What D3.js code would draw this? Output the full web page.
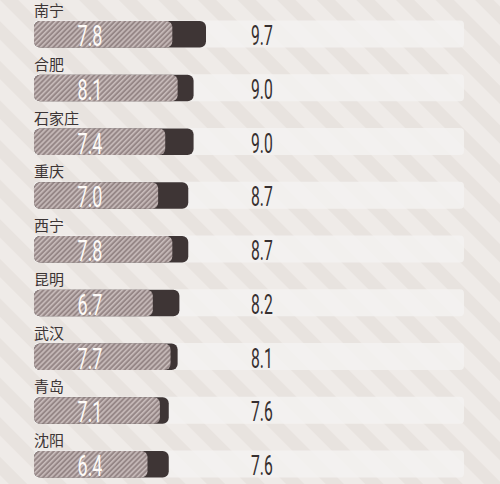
<!DOCTYPE html>
<html>
<head>
<meta charset="utf-8">
<script src="https://cdn.jsdelivr.net/npm/d3@7"></script>
<style>
  html, body { margin: 0; padding: 0; background: #ece8e4; }
  svg { display: block; }
</style>
</head>
<body>
<svg width="500" height="484"></svg>
<script>
// city rows, top to bottom
var cities = ["南宁", "合肥", "石家庄", "重庆", "西宁", "昆明", "武汉", "青岛", "沈阳"];
// value shown inside the hatched bar
var innerValues = [7.8, 8.1, 7.4, 7.0, 7.8, 6.7, 7.7, 7.1, 6.4];
// value shown to the right (length of the dark bar)
var outerValues = [9.7, 9.0, 9.0, 8.7, 8.7, 8.2, 8.1, 7.6, 7.6];

var svg = d3.select("svg"),
    width = +svg.attr("width"),
    height = +svg.attr("height");

var defs = svg.append("defs");

// background diagonal bands
var bg = defs.append("pattern")
    .attr("id", "bgStripes")
    .attr("patternUnits", "userSpaceOnUse")
    .attr("width", 28)
    .attr("height", 28)
    .attr("patternTransform", "rotate(-45)");
bg.append("rect").attr("width", 28).attr("height", 28).attr("fill", "#efebe8");
bg.append("rect").attr("width", 13).attr("height", 28).attr("fill", "#e8e3df");

// fine hatching inside the bar
var hatch = defs.append("pattern")
    .attr("id", "hatch")
    .attr("patternUnits", "userSpaceOnUse")
    .attr("width", 3.6)
    .attr("height", 3.6)
    .attr("patternTransform", "rotate(45)");
hatch.append("rect").attr("width", 3.6).attr("height", 3.6).attr("fill", "#968787");
hatch.append("rect").attr("width", 1.6).attr("height", 3.6).attr("fill", "#c8bcbb");

svg.append("rect")
    .attr("width", width)
    .attr("height", height)
    .attr("fill", "url(#bgStripes)");

var x = d3.scaleLinear().domain([0, 24.25]).range([34, 464]);
var y = d3.scaleBand().domain(cities).range([0, 483.75]);

var rows = svg.selectAll("g.row")
    .data(cities)
    .enter().append("g")
    .attr("class", "row")
    .attr("transform", function (d) { return "translate(0," + y(d) + ")"; });

// light track
rows.append("rect")
    .attr("x", x(0))
    .attr("y", 20.5)
    .attr("width", x.range()[1] - x(0))
    .attr("height", 27)
    .attr("rx", 4)
    .attr("fill", "#f4f2f1")
    .attr("opacity", 0.8);

// city label
rows.append("text")
    .attr("x", x(0))
    .attr("y", 16)
    .attr("font-family", "'Noto Sans CJK SC', sans-serif")
    .attr("font-size", 15)
    .attr("fill", "#3b3434")
    .text(function (d) { return d; });

// dark bar (outer value)
rows.append("rect")
    .attr("x", x(0))
    .attr("y", 21)
    .attr("width", function (d, i) { return x(outerValues[i]) - x(0); })
    .attr("height", 26.5)
    .attr("rx", 6)
    .attr("fill", "#3e3535");

// hatched bar (inner value)
rows.append("rect")
    .attr("x", x(0))
    .attr("y", 21)
    .attr("width", function (d, i) { return x(innerValues[i]) - x(0); })
    .attr("height", 26.5)
    .attr("rx", 6)
    .attr("fill", "url(#hatch)");

// inner value text
rows.append("text")
    .attr("transform", "translate(90,46) scale(0.6,1)")
    .attr("text-anchor", "middle")
    .attr("font-family", "Roboto, sans-serif")
    .attr("font-weight", 400)
    .attr("font-size", 30)
    .attr("fill", "#fdfaf7")
    .text(function (d, i) { return innerValues[i].toFixed(1); });

// outer value text
rows.append("text")
    .attr("transform", "translate(251,45) scale(0.56,1)")
    .attr("font-family", "Roboto, sans-serif")
    .attr("font-weight", 400)
    .attr("font-size", 28)
    .attr("fill", "#362f2f")
    .text(function (d, i) { return outerValues[i].toFixed(1); });
</script>
</body>
</html>
